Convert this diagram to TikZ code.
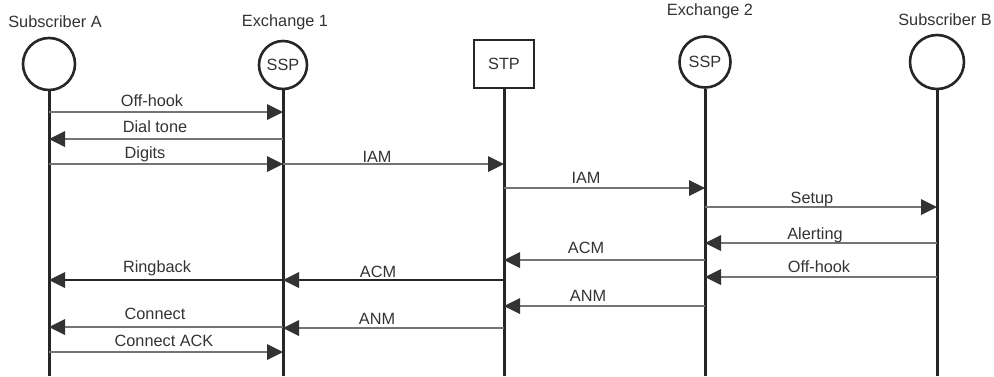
\documentclass[tikz,border=0pt]{standalone}
\usepackage{fontspec}
\setmainfont{Liberation Sans}
\usetikzlibrary{arrows.meta}
\definecolor{ink}{HTML}{262626}
\definecolor{txt}{HTML}{333333}
\definecolor{msggray}{HTML}{747474}
\definecolor{tipc}{HTML}{333333}
\begin{document}
\begin{tikzpicture}[x=1pt,y=-1pt,
  font=\fontsize{16.3}{19}\selectfont,
  every node/.style={text=txt},
  ent/.style={circle,draw=ink,line width=2.6pt,inner sep=0pt},
  stpbox/.style={rectangle,draw=ink,line width=2.8pt,minimum width=60pt,minimum height=48pt,inner sep=0pt},
  life/.style={draw=ink,line width=3pt},
  msg/.style={draw=msggray,line width=1.5pt,-{Triangle[length=16pt,width=16pt,color=tipc,fill=tipc,line width=0pt]}},
  msgdark/.style={msg,draw=ink,line width=1.2pt},
  hdr/.style={anchor=base},
  lbl/.style={anchor=base}]
\useasboundingbox (0,0) rectangle (994,376);
% entities
\node[ent,minimum size=52pt] (A) at (49,64) {};
\node[ent,minimum size=48pt] (E1) at (283,65) {SSP};
\node[stpbox] (S) at (504,64) {STP};
\node[ent,minimum size=51pt] (E2) at (705,62) {SSP};
\node[ent,minimum size=54pt] (B) at (937,62) {};
% headers
\node[hdr] (hA) at (55,27) {Subscriber A};
\node[hdr] (hE1) at (285,26) {Exchange 1};
\node[hdr] (hE2) at (710,15) {Exchange 2};
\node[hdr] (hB) at (945,25) {Subscriber B};
% lifelines
\coordinate (Aend) at (A |- 0,376);
\coordinate (E1end) at (E1 |- 0,376);
\coordinate (Send) at (S |- 0,376);
\coordinate (E2end) at (E2 |- 0,376);
\coordinate (Bend) at (B |- 0,376);
\draw[life] (A.south) -- (Aend);
\draw[life] (E1.south) -- (E1end);
\draw[life] (S.south) -- (Send);
\draw[life] (E2.south) -- (E2end);
\draw[life] (B.south) -- (Bend);
% messages
\draw[msg] (A |- 0,112) -- (E1 |- 0,112);
\node[lbl] (l1) at (152,106) {Off-hook};
\draw[msg] (E1 |- 0,139) -- (A |- 0,139);
\node[lbl] (l2) at (155,132) {Dial tone};
\draw[msg] (A |- 0,164) -- (E1 |- 0,164);
\node[lbl] (l3) at (145,158) {Digits};
\draw[msg] (E1 |- 0,164) -- (S |- 0,164);
\node[lbl] (l4) at (377,162) {IAM};
\draw[msg] (S |- 0,188) -- (E2 |- 0,188);
\node[lbl] (l5) at (586,183) {IAM};
\draw[msg] (E2 |- 0,207) -- (B |- 0,207);
\node[lbl] (l6) at (812,203) {Setup};
\draw[msg] (B |- 0,243) -- (E2 |- 0,243);
\node[lbl] (l7) at (815,239) {Alerting};
\draw[msg] (E2 |- 0,260) -- (S |- 0,260);
\node[lbl] (l8) at (586,253) {ACM};
\draw[msg] (B |- 0,277) -- (E2 |- 0,277);
\node[lbl] (l9) at (819,272) {Off-hook};
\draw[msgdark] (S |- 0,280) -- (E1 |- 0,280);
\node[lbl] (l10) at (378,277) {ACM};
\draw[msgdark] (E1 |- 0,280) -- (A |- 0,280);
\node[lbl] (l11) at (157,272) {Ringback};
\draw[msg] (E2 |- 0,306) -- (S |- 0,306);
\node[lbl] (l12) at (588,301) {ANM};
\draw[msg] (S |- 0,328) -- (E1 |- 0,328);
\node[lbl] (l13) at (377,324) {ANM};
\draw[msg] (E1 |- 0,327) -- (A |- 0,327);
\node[lbl] (l14) at (155,319) {Connect};
\draw[msg] (A |- 0,352) -- (E1 |- 0,352);
\node[lbl] (l15) at (164,346) {Connect ACK};
\end{tikzpicture}
\end{document}
